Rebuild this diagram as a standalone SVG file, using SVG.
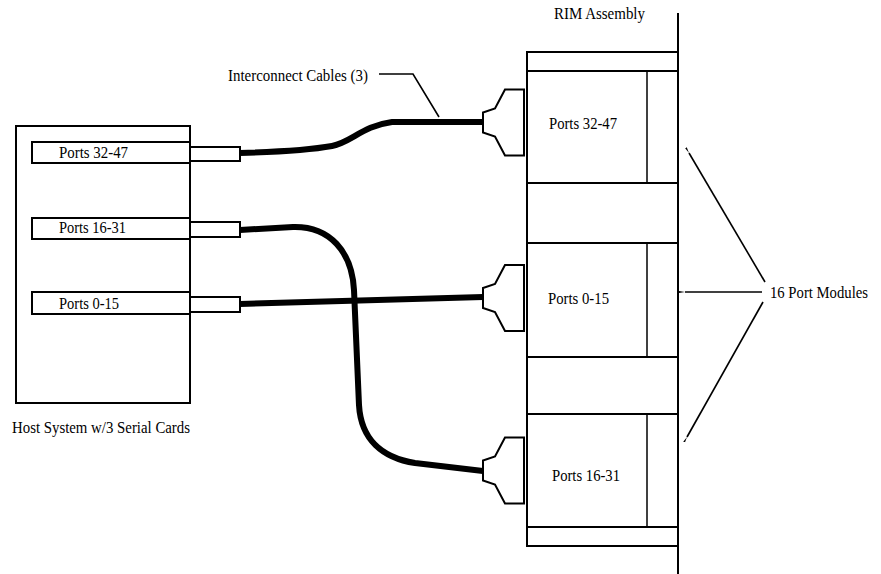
<svg xmlns="http://www.w3.org/2000/svg" width="881" height="574" viewBox="0 0 881 574">
<style>
text{font-family:"Liberation Serif","Times New Roman",serif;font-size:16.5px;fill:#000}
.box{fill:#fff;stroke:#000;stroke-width:2}
.thin{fill:none;stroke:#000;stroke-width:1.5}
.cable{fill:none;stroke:#000;stroke-width:6;stroke-linejoin:round}
.plug{fill:#fff;stroke:#000;stroke-width:2;stroke-linejoin:miter}
.lead{fill:none;stroke:#000;stroke-width:1.6}
</style>
<defs>
<path id="plug" d="M505,-33 L495,-14 L483,-10 L483,10 L495,14 L505,33 L524,33 L524,-33 Z"/>
<marker id="tip" markerWidth="6" markerHeight="3" refX="0" refY="1.5" orient="auto-start-reverse" markerUnits="userSpaceOnUse">
<path d="M0,1.5 L6,0.6 L6,2.4 Z" fill="#000"/>
</marker>
</defs>

<g id="host-system">
<rect class="box" x="16" y="126" width="174" height="277"/>
<text x="12" y="433" textLength="178" lengthAdjust="spacingAndGlyphs">Host System w/3 Serial Cards</text>
</g>
<g id="card-32-47">
<rect class="box" x="32" y="142" width="158" height="21"/>
<rect class="box" x="190" y="147" width="50" height="14"/>
<text x="59" y="158" textLength="69" lengthAdjust="spacingAndGlyphs">Ports 32-47</text>
</g>
<g id="card-16-31">
<rect class="box" x="32" y="218" width="158" height="21"/>
<rect class="box" x="190" y="222" width="50" height="15"/>
<text x="59" y="233" textLength="67" lengthAdjust="spacingAndGlyphs">Ports 16-31</text>
</g>
<g id="card-0-15">
<rect class="box" x="32" y="292" width="158" height="22"/>
<rect class="box" x="190" y="297" width="50" height="15"/>
<text x="59" y="309" textLength="60" lengthAdjust="spacingAndGlyphs">Ports 0-15</text>
</g>

<g id="rim-assembly">
<text x="554" y="19" textLength="91" lengthAdjust="spacingAndGlyphs">RIM Assembly</text>
<rect class="box" x="527" y="52" width="151" height="494"/>
<line class="box" x1="527" y1="71" x2="678" y2="71"/>
<line class="box" x1="527" y1="527" x2="678" y2="527"/>
<line class="box" x1="678" y1="13" x2="678" y2="574"/>
</g>
<g id="module-32-47">
<rect class="box" x="527" y="71" width="151" height="112"/>
<line class="thin" x1="647" y1="71" x2="647" y2="183"/>
<text x="549" y="129" textLength="68" lengthAdjust="spacingAndGlyphs">Ports 32-47</text>
</g>
<g id="module-0-15">
<rect class="box" x="527" y="243" width="151" height="114"/>
<line class="thin" x1="647" y1="243" x2="647" y2="357"/>
<text x="548" y="304" textLength="61" lengthAdjust="spacingAndGlyphs">Ports 0-15</text>
</g>
<g id="module-16-31">
<rect class="box" x="527" y="414" width="151" height="113"/>
<line class="thin" x1="647" y1="414" x2="647" y2="527"/>
<text x="552" y="481" textLength="68" lengthAdjust="spacingAndGlyphs">Ports 16-31</text>
</g>
<g id="plug-32-47"><use href="#plug" class="plug" transform="translate(0,122.5)"/></g>
<g id="plug-0-15"><use href="#plug" class="plug" transform="translate(0,298)"/></g>
<g id="plug-16-31"><use href="#plug" class="plug" transform="translate(0,470.5)"/></g>

<g id="label-cables">
<text x="228" y="81" textLength="140" lengthAdjust="spacingAndGlyphs">Interconnect Cables (3)</text>
</g>
<g id="label-modules">
<text x="770" y="298" textLength="98" lengthAdjust="spacingAndGlyphs">16 Port Modules</text>
</g>

<g id="connectors">
<path class="cable" d="M240,153 C275,152 310,150 332,146 C352,142 362,126 392,122 L483,122"/>
<path class="cable" d="M240,304 L483,297"/>
<path class="cable" d="M240,230 L293,227 C330,226 352,252 354,290 L359,405 C361,440 383,458 415,463 L483,471"/>
<path class="lead" d="M379,74 L413,74 L439,117"/>
<line class="lead" x1="765" y1="282" x2="689" y2="153" marker-end="url(#tip)"/>
<line class="lead" x1="762" y1="292" x2="685" y2="292" marker-end="url(#tip)"/>
<line class="lead" x1="763" y1="302" x2="687" y2="437" marker-end="url(#tip)"/>
</g>
</svg>
